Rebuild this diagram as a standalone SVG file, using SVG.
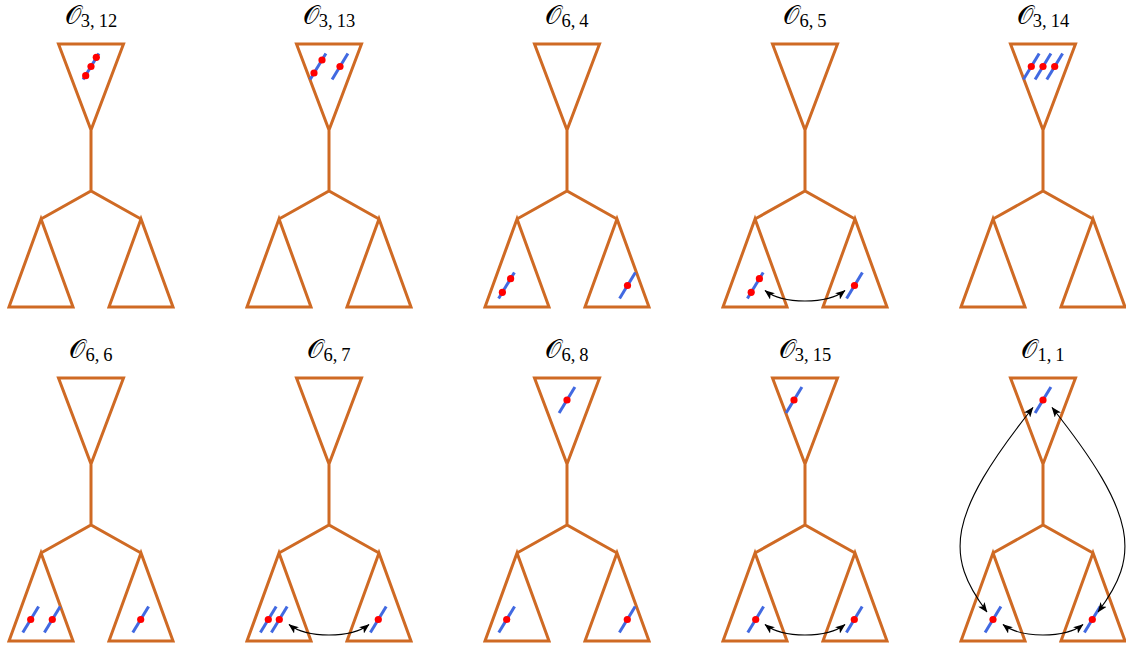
<svg xmlns="http://www.w3.org/2000/svg" xmlns:xlink="http://www.w3.org/1999/xlink" width="1126" height="650" viewBox="0 0 1126 650">
<style>
.tree{fill:none;stroke:#CF6A24;stroke-width:3;stroke-linejoin:miter}
.b{stroke:#4169E1;stroke-width:3}
.d{fill:#FF0000}
.arr{fill:none;stroke:#000;stroke-width:1.1;marker-start:url(#ah);marker-end:url(#ah)}
.t{font-family:"DejaVu Serif","Liberation Serif",serif;font-size:26px;fill:#000}
.s{font-family:"Liberation Serif","DejaVu Serif",serif;font-size:18.5px}
</style>
<defs>
<marker id="ah" viewBox="0 0 10 8" refX="9.5" refY="4" markerWidth="10" markerHeight="8" markerUnits="userSpaceOnUse" orient="auto-start-reverse"><path d="M0,0 L10,4 L0,8 L2.5,4 Z" fill="#000"/></marker>
<path id="tree" class="tree" d="M-32.5,0 L32.5,0 L0,86 Z M0,86 V147 M-50,175 L0,147 L50,175 M-50,175 L-82,263 L-18,263 Z M50,175 L18,263 L82,263 Z"/>
<line id="bl" class="b" x1="-7.9" y1="13.1" x2="7.9" y2="-13.1"/>
</defs>

<g id="p1" transform="translate(91,44)">
<text class="t" x="0" y="-20.5" text-anchor="middle">𝒪<tspan class="s" dy="3.2">3,</tspan><tspan class="s" dx="4">12</tspan></text>
<use href="#tree"/>
<use href="#bl" x="0" y="22.5"/>
<circle class="d" cx="5.3" cy="13.3" r="3.6"/><circle class="d" cx="0" cy="22.5" r="3.6"/><circle class="d" cx="-5.3" cy="31.7" r="3.6"/>
</g>

<g id="p2" transform="translate(329,44)">
<text class="t" x="0" y="-20.5" text-anchor="middle">𝒪<tspan class="s" dy="3.2">3,</tspan><tspan class="s" dx="4">13</tspan></text>
<use href="#tree"/>
<use href="#bl" x="-11" y="22.5"/><use href="#bl" x="11" y="22.5"/>
<circle class="d" cx="-7" cy="16" r="3.6"/><circle class="d" cx="-15" cy="29" r="3.6"/><circle class="d" cx="11" cy="22.5" r="3.6"/>
</g>

<g id="p3" transform="translate(567,44)">
<text class="t" x="0" y="-20.5" text-anchor="middle">𝒪<tspan class="s" dy="3.2">6,</tspan><tspan class="s" dx="4">4</tspan></text>
<use href="#tree"/>
<use href="#bl" x="-60.5" y="241.5"/><use href="#bl" x="60.5" y="241.5"/>
<circle class="d" cx="-56.4" cy="234.7" r="3.6"/><circle class="d" cx="-64.6" cy="248.3" r="3.6"/><circle class="d" cx="60.5" cy="241.5" r="3.6"/>
</g>

<g id="p4" transform="translate(805,44)">
<text class="t" x="0" y="-20.5" text-anchor="middle">𝒪<tspan class="s" dy="3.2">6,</tspan><tspan class="s" dx="4">5</tspan></text>
<use href="#tree"/>
<use href="#bl" x="-49.7" y="241.5"/><use href="#bl" x="49.5" y="241.5"/>
<circle class="d" cx="-45.6" cy="234.7" r="3.6"/><circle class="d" cx="-53.8" cy="248.3" r="3.6"/><circle class="d" cx="49.5" cy="241.5" r="3.6"/>
</g>

<g id="p5" transform="translate(1043,44)">
<text class="t" x="0" y="-20.5" text-anchor="middle">𝒪<tspan class="s" dy="3.2">3,</tspan><tspan class="s" dx="4">14</tspan></text>
<use href="#tree"/>
<use href="#bl" x="-11.7" y="22.5"/><use href="#bl" x="0" y="22.5"/><use href="#bl" x="11.7" y="22.5"/>
<circle class="d" cx="-11.7" cy="22.5" r="3.6"/><circle class="d" cx="0" cy="22.5" r="3.6"/><circle class="d" cx="11.7" cy="22.5" r="3.6"/>
</g>

<g id="p6" transform="translate(91,378)">
<text class="t" x="0" y="-20.5" text-anchor="middle">𝒪<tspan class="s" dy="3.2">6,</tspan><tspan class="s" dx="4">6</tspan></text>
<use href="#tree"/>
<use href="#bl" x="-60.3" y="241.5"/><use href="#bl" x="-38.7" y="241.5"/><use href="#bl" x="49.7" y="241.5"/>
<circle class="d" cx="-60.3" cy="241.5" r="3.6"/><circle class="d" cx="-38.7" cy="241.5" r="3.6"/><circle class="d" cx="49.7" cy="241.5" r="3.6"/>
</g>

<g id="p7" transform="translate(329,378)">
<text class="t" x="0" y="-20.5" text-anchor="middle">𝒪<tspan class="s" dy="3.2">6,</tspan><tspan class="s" dx="4">7</tspan></text>
<use href="#tree"/>
<use href="#bl" x="-60.7" y="241.5"/><use href="#bl" x="-49.7" y="241.5"/><use href="#bl" x="49.3" y="241.5"/>
<circle class="d" cx="-60.7" cy="241.5" r="3.6"/><circle class="d" cx="-49.7" cy="241.5" r="3.6"/><circle class="d" cx="49.3" cy="241.5" r="3.6"/>
</g>

<g id="p8" transform="translate(567,378)">
<text class="t" x="0" y="-20.5" text-anchor="middle">𝒪<tspan class="s" dy="3.2">6,</tspan><tspan class="s" dx="4">8</tspan></text>
<use href="#tree"/>
<use href="#bl" x="0" y="22"/><use href="#bl" x="-60.3" y="241.5"/><use href="#bl" x="60.3" y="241.5"/>
<circle class="d" cx="0" cy="22" r="3.6"/><circle class="d" cx="-60.3" cy="241.5" r="3.6"/><circle class="d" cx="60.3" cy="241.5" r="3.6"/>
</g>

<g id="p9" transform="translate(805,378)">
<text class="t" x="0" y="-20.5" text-anchor="middle">𝒪<tspan class="s" dy="3.2">3,</tspan><tspan class="s" dx="4">15</tspan></text>
<use href="#tree"/>
<use href="#bl" x="-11" y="22"/><use href="#bl" x="-49.3" y="241.5"/><use href="#bl" x="49.3" y="241.5"/>
<circle class="d" cx="-11" cy="22" r="3.6"/><circle class="d" cx="-49.3" cy="241.5" r="3.6"/><circle class="d" cx="49.3" cy="241.5" r="3.6"/>
</g>

<g id="p10" transform="translate(1043,378)">
<text class="t" x="0" y="-20.5" text-anchor="middle">𝒪<tspan class="s" dy="3.2">1,</tspan><tspan class="s" dx="4">1</tspan></text>
<use href="#tree"/>
<use href="#bl" x="0" y="22"/><use href="#bl" x="-50" y="241.5"/><use href="#bl" x="49.3" y="241.5"/>
<circle class="d" cx="0" cy="22" r="3.6"/><circle class="d" cx="-50" cy="241.5" r="3.6"/><circle class="d" cx="49.3" cy="241.5" r="3.6"/>
</g>

<g id="connectors">
<path class="arr" d="M765,290.5 C783,304.5 827,304.5 845,290.5"/>
<path class="arr" d="M289,624.5 C307,638.5 351,638.5 369,624.5"/>
<path class="arr" d="M765,624.5 C783,638.5 827,638.5 845,624.5"/>
<path class="arr" d="M1003,624.5 C1021,638.5 1065,638.5 1083,624.5"/>
<path class="arr" d="M987,612 C945,556 946.2,516.7 1033,407.5"/>
<path class="arr" d="M1098,612 C1140,556 1138.8,516.7 1052,407.5"/>
</g>
</svg>
